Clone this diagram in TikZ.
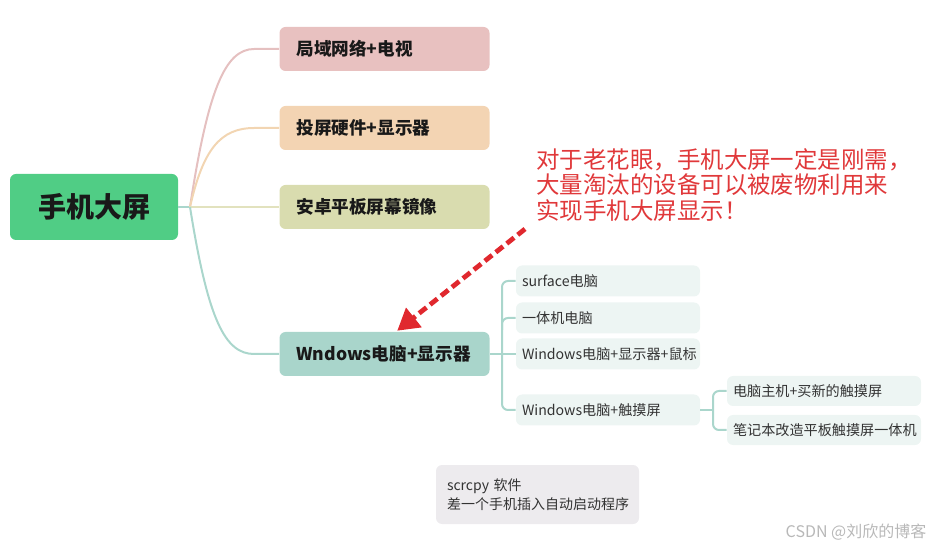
\documentclass[tikz,border=0pt]{standalone}
\usepackage{fontspec}
\setmainfont{Noto Sans CJK SC}
\usetikzlibrary{arrows.meta,calc}
\definecolor{rootgreen}{HTML}{50CD85}
\definecolor{bA}{HTML}{E8C1C0}
\definecolor{bB}{HTML}{F3D4B3}
\definecolor{bC}{HTML}{D9DCAF}
\definecolor{bD}{HTML}{A9D5CB}
\definecolor{lA}{HTML}{E5C0C0}
\definecolor{lB}{HTML}{F2D5B2}
\definecolor{lC}{HTML}{E2E2BE}
\definecolor{lD}{HTML}{AAD6CC}
\definecolor{childfill}{HTML}{EDF5F3}
\definecolor{notefill}{HTML}{EDEBEE}
\definecolor{redtxt}{HTML}{E0383A}
\definecolor{redarrow}{HTML}{E0282E}
\definecolor{childtxt}{HTML}{333333}
\tikzset{
  rootbox/.style={fill=rootgreen, rounded corners=4.5pt, minimum width=126pt, minimum height=49.5pt, inner sep=0pt, font=\fontsize{21}{24}\selectfont\bfseries, text=black!90},
  mainbox/.style={rounded corners=4.5pt, minimum width=157.5pt, minimum height=33pt, inner xsep=12.75pt, inner ysep=0pt, text width=132pt, align=left, font=\fontsize{13.2}{15}\selectfont\bfseries, text=black!90},
  childbox/.style={fill=childfill, rounded corners=4.5pt, minimum width=138pt, minimum height=23.25pt, inner xsep=4.5pt, inner ysep=0pt, text width=129pt, align=left, font=\fontsize{10.6}{13}\selectfont, text=childtxt},
  grandbox/.style={fill=childfill, rounded corners=4.5pt, minimum width=145.5pt, minimum height=22.5pt, inner xsep=4.5pt, inner ysep=0pt, text width=136.5pt, align=left, font=\fontsize{10.6}{13}\selectfont, text=childtxt},
  conn/.style={line width=1.5pt},
}
\begin{document}
\begin{tikzpicture}[x=0.75pt,y=-0.75pt]
\useasboundingbox (0,0) rectangle (938,548);
% nodes
\node[rootbox] (root) at (94,207) {手机大屏};
\node[mainbox, fill=bA] (b1) at (384.5,49) {局域网络+电视};
\node[mainbox, fill=bB] (b2) at (384.5,128) {投屏硬件+显示器};
\node[mainbox, fill=bC] (b3) at (384.5,207) {安卓平板屏幕镜像};
\node[mainbox, fill=bD] (b4) at (384.5,354) {Wndows电脑+显示器};
\node[childbox] (c1) at (608,281) {surface电脑};
\node[childbox] (c2) at (608,318) {一体机电脑};
\node[childbox] (c3) at (608,354) {Windows电脑+显示器+鼠标};
\node[childbox] (c4) at (608,410) {Windows电脑+触摸屏};
\node[grandbox] (g1) at (824,391) {电脑主机+买新的触摸屏};
\node[grandbox] (g2) at (824,430) {笔记本改造平板触摸屏一体机};
\node[fill=notefill, rounded corners=4.5pt, minimum width=152.25pt, minimum height=44.25pt, inner xsep=8.25pt, inner ysep=0pt, text width=135.75pt, align=left, font=\fontsize{10.5}{14.2}\selectfont, text=childtxt] (note) at (537.5,494.5) {scrcpy 软件\\差一个手机插入自动启动程序};
\node[anchor=north west, inner sep=0pt, align=left, text=redtxt, font=\fontsize{17.6}{19.2}\selectfont] (remark) at (536,148) {对于老花眼，手机大屏一定是刚需，\\大量淘汰的设备可以被废物利用来\\实现手机大屏显示！};
\node[text=black!28, font=\fontsize{12}{14}\selectfont, inner sep=0pt] (wm) at (856,532) {CSDN @刘欣的博客};
% connectors
\coordinate (hub) at (190,207);
\draw[conn, lD] (root.east) -- (hub);
\draw[conn, lA] (hub) .. controls (208,90) and (225,49) .. ($(b1.west)+(-25,0)$) -- (b1.west);
\draw[conn, lB] (hub) .. controls (203,150) and (220,128) .. ($(b2.west)+(-25,0)$) -- (b2.west);
\draw[conn, lC] (hub) -- (b3.west);
\draw[conn, lD] (hub) .. controls (208,320) and (225,354) .. ($(b4.west)+(-25,0)$) -- (b4.west);
% children bracket
\coordinate (j1) at (502,354);
\draw[conn, lD] (b4.east) -- (c3.west);
\draw[conn, lD, rounded corners=4.5pt] (c1.west) -- (j1 |- c1.west) -- (j1 |- c4.west) -- (c4.west);
\draw[conn, lD, rounded corners=4.5pt] ($(j1 |- c2.west)+(0,12)$) -- (j1 |- c2.west) -- (c2.west);
% grandchildren bracket
\coordinate (j2) at (713,410);
\draw[conn, lD] (c4.east) -- (j2);
\draw[conn, lD, rounded corners=4.5pt] (g1.west) -- (j2 |- g1.west) -- (j2 |- g2.west) -- (g2.west);
% red arrow
\coordinate (astart) at (525,229);
\draw[redarrow, line width=3.6pt, dash pattern=on 7pt off 3.5pt, -{Triangle[length=16pt,width=18pt]}] (astart) -- ($(b4.north west)+(118,-1)$);
\end{tikzpicture}
\end{document}
